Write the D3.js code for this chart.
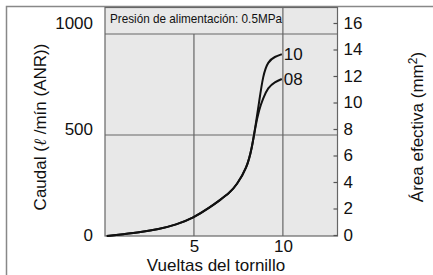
<!DOCTYPE html>
<html>
<head>
<meta charset="utf-8">
<script src="https://cdn.jsdelivr.net/npm/d3@7"></script>
<style>
  body { margin: 0; background: #fff; }
  text { font-family: "Liberation Sans", Arial, sans-serif; fill: #111; }
</style>
</head>
<body>
<div id="chart"></div>
<script>
// screw turns -> flow (l/min ANR), shared part of both curves
var turnsCommon = [0.1, 1, 2, 3, 4, 4.96, 5.9, 6.46, 7.0, 7.4, 7.98, 8.26, 8.45];
var flowCommon  = [0, 9, 19, 33, 56, 89, 142, 178, 213, 252, 337, 436, 540];
// branch for size 10
var turns10 = [8.66, 8.88, 9.16, 9.55, 9.94];
var flow10  = [660, 795, 865, 888, 900];
// branch for size 08
var turns08 = [8.66, 8.88, 9.16, 9.55, 9.94];
var flow08  = [625, 680, 735, 763, 777];

var flowTicks = [0, 500, 1000];
var areaTicks = [0, 2, 4, 6, 8, 10, 12, 14, 16];
var turnTicks = [5, 10];
var seriesLabels = ["10", "08"];

var W = 433, H = 275;
var plot = {left: 105, right: 337.5, top: 7.5, bottom: 236};

var svg = d3.select("#chart").append("svg")
  .attr("width", W).attr("height", H);

var x = d3.scaleLinear().domain([0, 13.07]).range([plot.left, plot.right]);
var yFlow = d3.scaleLinear().domain([0, 1000]).range([plot.bottom, 34]);
var yArea = d3.scaleLinear().domain([0, 16]).range([235, 23]);
// left labels sit on the area scale (1000 <-> 16)
var yFlowLab = d3.scaleLinear().domain([0, 1000]).range([235, 23]);

// outer frame (left + top only)
svg.append("path")
  .attr("d", "M6.5," + H + "V6.5H" + W)
  .attr("fill", "none").attr("stroke", "#888").attr("stroke-width", 1.5);

// plot background
svg.append("rect")
  .attr("x", plot.left).attr("y", plot.top)
  .attr("width", plot.right - plot.left).attr("height", plot.bottom - plot.top)
  .attr("fill", "#e8e8e8").attr("stroke", "#666").attr("stroke-width", 1.2);

// grid
var grid = svg.append("g").attr("stroke", "#666").attr("stroke-width", 1.2);
grid.selectAll("line.h").data([500, 1000]).enter().append("line")
  .attr("x1", plot.left).attr("x2", plot.right)
  .attr("y1", function(d){ return yFlow(d); }).attr("y2", function(d){ return yFlow(d); });
grid.selectAll("line.v").data(turnTicks).enter().append("line")
  .attr("x1", function(d){ return x(d); }).attr("x2", function(d){ return x(d); })
  .attr("y1", plot.bottom)
  .attr("y2", function(d){ return d == 10 ? plot.top : yFlow(1000); });

svg.append("text")
  .attr("x", 110).attr("y", 23)
  .style("font-family", "'Liberation Sans Narrow', 'Arial Narrow', sans-serif")
  .style("font-size", "13px")
  .attr("textLength", 172).attr("lengthAdjust", "spacingAndGlyphs")
  .text("Presión de alimentación: 0.5MPa");

// left axis (labels only)
var yAxisL = d3.axisLeft(yFlowLab).tickValues(flowTicks).tickSize(0).tickPadding(0)
  .tickFormat(d3.format("d"));
var gL = svg.append("g").attr("transform", "translate(93,0)").call(yAxisL);
gL.select(".domain").remove();
gL.selectAll("text").style("font-size", "17px").style("font-family", "'Liberation Sans', Arial, sans-serif");

// right axis
var yAxisR = d3.axisLeft(yArea).tickValues(areaTicks).tickSize(4);
var gR = svg.append("g").attr("transform", "translate(" + plot.right + ",0)").call(yAxisR);
gR.select(".domain").remove();
gR.selectAll("line").attr("stroke", "#555").attr("stroke-width", 1.2);
gR.selectAll("text").attr("text-anchor", "start").attr("x", 6)
  .style("font-size", "17px").style("font-family", "'Liberation Sans', Arial, sans-serif");

// bottom axis
var xAxis = d3.axisBottom(x).tickValues(turnTicks).tickSize(0).tickPadding(4);
var gX = svg.append("g").attr("transform", "translate(0," + plot.bottom + ")").call(xAxis);
gX.select(".domain").remove();
gX.selectAll("text").style("font-size", "17px").style("font-family", "'Liberation Sans', Arial, sans-serif");

// titles
svg.append("text")
  .attr("transform", "translate(46,127) rotate(-90)")
  .attr("text-anchor", "middle").style("font-size", "17px")
  .html('Caudal (<tspan font-style="italic" font-family="DejaVu Serif">ℓ</tspan> /mín (ANR))');

svg.append("text")
  .attr("transform", "translate(423,127) rotate(-90)")
  .attr("text-anchor", "middle").style("font-size", "17px")
  .html('Área efectiva (mm<tspan dy="-6" font-size="12px">2</tspan><tspan dy="6">)</tspan>');

svg.append("text")
  .attr("x", 216).attr("y", 271)
  .attr("text-anchor", "middle").style("font-size", "17px")
  .text("Vueltas del tornillo");

// curves: one smooth path per size, sharing the lower part
var line = d3.line()
  .x(function(d){ return x(d[0]); })
  .y(function(d){ return yFlow(d[1]); })
  .curve(d3.curveBasis);

var common = d3.zip(turnsCommon, flowCommon);
var curves = [common.concat(d3.zip(turns10, flow10)), common.concat(d3.zip(turns08, flow08))];

svg.selectAll("path.curve").data(curves).enter().append("path")
  .attr("class", "curve")
  .attr("d", line).attr("fill", "none").attr("stroke", "#111").attr("stroke-width", 2);

svg.selectAll("text.lab").data(curves).enter().append("text")
  .attr("class", "lab")
  .attr("x", function(d){ return x(d[d.length - 1][0]) + 2; })
  .attr("y", function(d){ return yFlow(d[d.length - 1][1]) + 6; })
  .style("font-size", "17px")
  .text(function(d, i){ return seriesLabels[i]; });
</script>
</body>
</html>
